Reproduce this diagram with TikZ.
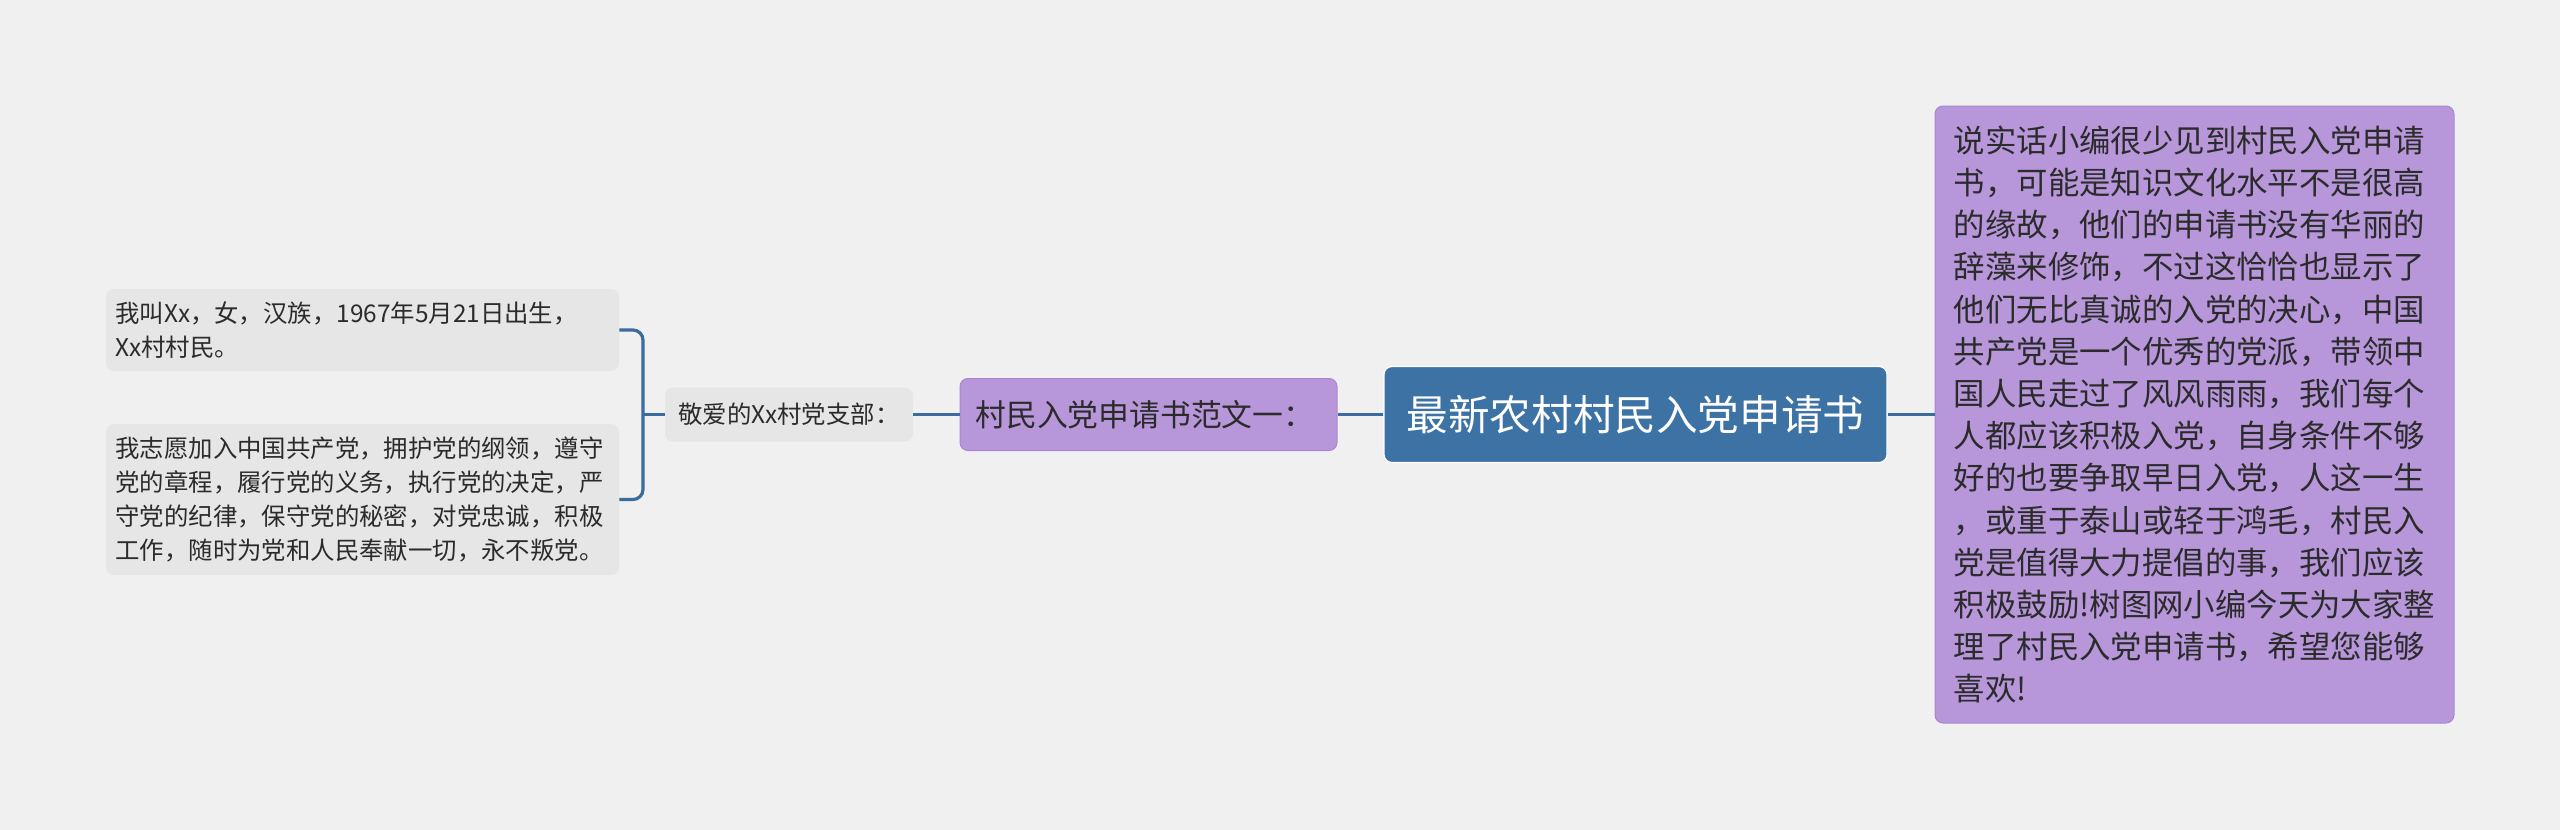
\documentclass[tikz,border=0pt]{standalone}
\usepackage{fontspec}
\newfontfamily\cjk{Noto Sans CJK SC}
\definecolor{bgc}{HTML}{F0F0F0}
\definecolor{bluec}{HTML}{3D72A5}
\definecolor{linec}{HTML}{3A6C9E}
\definecolor{purplec}{HTML}{B797DA}
\definecolor{purpled}{HTML}{A987D0}
\definecolor{grayc}{HTML}{E6E6E6}
\definecolor{txt}{HTML}{2B2B2B}
\tikzset{
  box/.style={rounded corners=4pt, inner sep=0pt, align=left, text=txt},
  centralbox/.style={box, fill=bluec, draw=white, line width=0.6pt, text=white,
    minimum width=251.5pt, minimum height=48pt, align=center,
    font=\cjk\fontsize{20.8pt}{24pt}\selectfont},
  purplebox/.style={box, fill=purplec, draw=purpled, line width=0.5pt},
  graybox/.style={box, fill=grayc},
  conn/.style={draw=linec, line width=1.6pt},
}
\begin{document}
\begin{tikzpicture}[x=0.5pt, y=-0.5pt]
\fill[bgc] (0,0) rectangle (2560,830);
\useasboundingbox (0,0) rectangle (2560,830);

\node[centralbox] (root) at (1635.5,414.5) {最新农村村民入党申请书};

\node[purplebox, minimum width=188.5pt, minimum height=36pt, text width=173pt,
  font=\cjk\fontsize{15.4pt}{19pt}\selectfont] (l1) at (1148.5,414.5) {村民入党申请书范文一：};

\node[graybox, minimum width=124pt, minimum height=27pt,
  font=\cjk\fontsize{12.2pt}{15pt}\selectfont] (l2) at (789,414.5) {敬爱的Xx村党支部：};

\node[graybox, minimum width=256.5pt, minimum height=41pt, text width=247pt,
  font=\cjk\fontsize{12.2pt}{17pt}\selectfont] (leafa) at (362.5,330)
  {我叫Xx，女，汉族，1967年5月21日出生，\\Xx村村民。};

\node[graybox, minimum width=256.5pt, minimum height=75.5pt, text width=247pt,
  font=\cjk\fontsize{12.2pt}{17pt}\selectfont] (leafb) at (362.5,499.5)
  {我志愿加入中国共产党，拥护党的纲领，遵守\\
   党的章程，履行党的义务，执行党的决定，严\\
   守党的纪律，保守党的秘密，对党忠诚，积极\\
   工作，随时为党和人民奉献一切，永不叛党。};

\node[purplebox, minimum width=259.5pt, minimum height=308.5pt,
  font=\cjk\fontsize{15.7pt}{21.1pt}\selectfont] (right) at (2194.5,414.5)
  {说实话小编很少见到村民入党申请\\
   书，可能是知识文化水平不是很高\\
   的缘故，他们的申请书没有华丽的\\
   辞藻来修饰，不过这恰恰也显示了\\
   他们无比真诚的入党的决心，中国\\
   共产党是一个优秀的党派，带领中\\
   国人民走过了风风雨雨，我们每个\\
   人都应该积极入党，自身条件不够\\
   好的也要争取早日入党，人这一生\\
   ，或重于泰山或轻于鸿毛，村民入\\
   党是值得大力提倡的事，我们应该\\
   积极鼓励!树图网小编今天为大家整\\
   理了村民入党申请书，希望您能够\\
   喜欢!};

\coordinate (br) at (643,414.5);

\draw[conn] (root.west) -- (l1.east);
\draw[conn] (root.east) -- (right.west);
\draw[conn] (l1.west) -- (l2.east);
\draw[conn] (l2.west) -- (br);
\draw[conn, rounded corners=5pt] (leafa.east) -| (br) |- (leafb.east);
\end{tikzpicture}
\end{document}
